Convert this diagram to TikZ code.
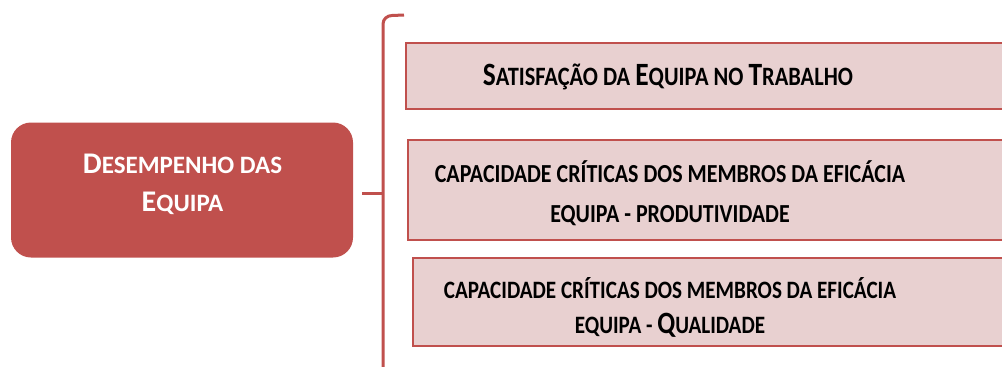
\documentclass[tikz,border=0pt]{standalone}
\usepackage{fontspec}
\setmainfont{Carlito}
\newfontfamily\condfont{Carlito}[FakeStretch=0.845]
\definecolor{accred}{HTML}{C0504D}
\definecolor{lightred}{HTML}{E8D0D0}
\begin{document}
\begin{tikzpicture}[x=1pt,y=-1pt,
  mainbox/.style={fill=accred, rounded corners=20pt, inner sep=0pt},
  itembox/.style={draw=accred, line width=2pt, fill=lightred},
  itemtext/.style={text=black, align=center, inner sep=0pt, anchor=base},
  bracket/.style={draw=accred, line width=3pt}]
\useasboundingbox (0,0) rectangle (1002,367);
% main box
\node[mainbox, minimum width=342pt, minimum height=135pt] (main) at (182,190) {};
\node[text=white, align=center, inner sep=0pt, anchor=base,
      font=\bfseries\fontsize{25}{38}\selectfont] (maint) at (182.5,211)
  {{\fontsize{30}{38}\selectfont D}ESEMPENHO DAS\\{\fontsize{30}{38}\selectfont E}QUIPA};
% item boxes
\path[itembox] (406,43) rectangle (1012,109) node[pos=0] (b1) {};
\path[itembox] (408,140) rectangle (1012,240) node[pos=0] (b2) {};
\path[itembox] (413,258) rectangle (1012,346) node[pos=0] (b3) {};
\node[itemtext, font=\condfont\bfseries\fontsize{26.5}{30}\selectfont] (t1) at (668,85)
  {{\fontsize{32.5}{30}\selectfont S}ATISFAÇÃO DA {\fontsize{32.5}{30}\selectfont E}QUIPA NO {\fontsize{32.5}{30}\selectfont T}RABALHO};
\node[itemtext, font=\condfont\bfseries\fontsize{26}{40}\selectfont] (t2) at (670,222)
  {CAPACIDADE CRÍTICAS DOS MEMBROS DA EFICÁCIA\\EQUIPA - PRODUTIVIDADE};
\node[itemtext, font=\condfont\bfseries\fontsize{25}{35}\selectfont] (t3) at (670,333)
  {CAPACIDADE CRÍTICAS DOS MEMBROS DA EFICÁCIA\\EQUIPA - {\fontsize{31}{35}\selectfont Q}UALIDADE};
% bracket
\coordinate (btop) at (404,15);
\coordinate (bbot) at (383,372);
\coordinate (bmid) at (383,193);
\coordinate (tick) at (362,193);
\draw[bracket] (btop) -- (392,15.5) to[out=180,in=90] (bmid |- 0,24) -- (bbot);
\draw[bracket] (tick) -- (bmid);
\end{tikzpicture}
\end{document}
